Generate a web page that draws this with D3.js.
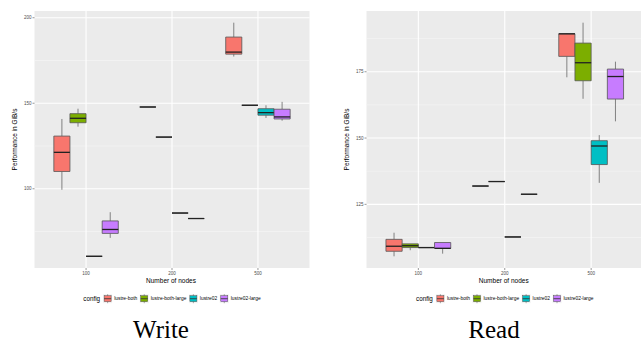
<!DOCTYPE html>
<html>
<head>
<meta charset="utf-8">
<script src="https://cdn.jsdelivr.net/npm/d3@7"></script>
<style>
  html, body { margin: 0; padding: 0; background: #fff; }
  svg { display: block; }
</style>
</head>
<body>
<svg id="chart"></svg>
<script>
// categories
const nodeCounts = ["100", "200", "500"];
const configs = ["lustre-both", "lustre-both-large", "lustre02", "lustre02-large"];
const configColors = ["#F8766D", "#7CAE00", "#00BFC4", "#C77CFF"];

// five number summaries: [min, q1, median, q3, max]
// one row per node count, one entry per config
const writeStats = [
  [[99.4, 110.1, 121.3, 130.8, 140.8], [136.3, 138.6, 141.2, 143.9, 146.8], [60.5, 60.5, 60.5, 60.5, 60.5], [71.3, 73.9, 76.2, 81.2, 86.3]],
  [[147.8, 147.8, 147.8, 147.8, 147.8], [130.2, 130.2, 130.2, 130.2, 130.2], [85.8, 85.8, 85.8, 85.8, 85.8], [82.6, 82.6, 82.6, 82.6, 82.6]],
  [[177.3, 178.7, 179.9, 188.7, 197.1], [148.8, 148.8, 148.8, 148.8, 148.8], [141.4, 143.0, 144.5, 146.8, 148.8], [139.8, 140.8, 142.0, 146.5, 150.8]]
];
const readStats = [
  [[105.4, 107.3, 109.2, 111.8, 114.3], [107.7, 108.7, 109.4, 110.1, 110.1], [108.7, 108.7, 108.7, 108.7, 108.7], [106.4, 108.4, 108.4, 110.6, 110.6]],
  [[131.9, 131.9, 131.9, 131.9, 131.9], [133.6, 133.6, 133.6, 133.6, 133.6], [112.7, 112.7, 112.7, 112.7, 112.7], [128.8, 128.8, 128.8, 128.8, 128.8]],
  [[172.9, 180.8, 189.3, 189.3, 189.5], [164.8, 171.6, 178.4, 185.8, 193.5], [133.1, 140.0, 147.0, 149.0, 151.1], [156.3, 164.7, 173.2, 176.0, 178.8]]
];

// tick labels
const writeTicks = [100, 150, 200];
const writeMinor = [75, 125, 175];
const readTicks = [125, 150, 175];
const readMinor = [112.5, 137.5, 162.5, 187.5];

const width = 641;
const height = 344;

const svg = d3.select("#chart")
  .attr("width", width)
  .attr("height", height)
  .attr("viewBox", [0, 0, width, height]);

function drawPanel(stats, ticks, minor, left, right, caption, captionX) {
  const top = 11, bottom = 268;
  const g = svg.append("g");

  const allVals = stats.flat(2);
  const lo = d3.min(allVals), hi = d3.max(allVals);
  const pad = (hi - lo) * 0.05;
  const y = d3.scaleLinear().domain([lo - pad, hi + pad]).range([bottom, top]);

  // discrete x: 3 categories with 0.6 expansion each side
  const xc = d3.scaleLinear().domain([0.4, 3.6]).range([left, right]);
  const unit = xc(2) - xc(1);
  const sub = d3.scaleBand().domain(configs).range([-0.375 * unit, 0.375 * unit]);

  g.append("rect")
    .attr("x", left).attr("y", top)
    .attr("width", right - left).attr("height", bottom - top)
    .attr("fill", "#EBEBEB");

  g.selectAll(".minor").data(minor).join("line")
    .attr("x1", left).attr("x2", right)
    .attr("y1", d => y(d)).attr("y2", d => y(d))
    .attr("stroke", "#F7F7F7").attr("stroke-width", 0.6);

  g.selectAll(".major").data(ticks).join("line")
    .attr("x1", left).attr("x2", right)
    .attr("y1", d => y(d)).attr("y2", d => y(d))
    .attr("stroke", "#fff").attr("stroke-width", 1.1);

  g.selectAll(".vmajor").data(nodeCounts).join("line")
    .attr("x1", (d, i) => xc(i + 1)).attr("x2", (d, i) => xc(i + 1))
    .attr("y1", top).attr("y2", bottom)
    .attr("stroke", "#fff").attr("stroke-width", 1.1);

  // y axis
  ticks.forEach(t => {
    g.append("line").attr("x1", left - 2).attr("x2", left)
      .attr("y1", y(t)).attr("y2", y(t)).attr("stroke", "#333").attr("stroke-width", 0.5);
    g.append("text").attr("x", left - 3).attr("y", y(t))
      .attr("text-anchor", "end").attr("dominant-baseline", "central")
      .attr("font-family", "Liberation Sans, Arial, sans-serif").attr("font-size", 4.5)
      .attr("fill", "#4D4D4D").text(t);
  });
  // x axis
  nodeCounts.forEach((n, i) => {
    g.append("line").attr("x1", xc(i + 1)).attr("x2", xc(i + 1))
      .attr("y1", bottom).attr("y2", bottom + 2).attr("stroke", "#333").attr("stroke-width", 0.5);
    g.append("text").attr("x", xc(i + 1)).attr("y", bottom + 6.5)
      .attr("text-anchor", "middle")
      .attr("font-family", "Liberation Sans, Arial, sans-serif").attr("font-size", 4.5)
      .attr("fill", "#4D4D4D").text(n);
  });

  g.append("text").attr("x", (left + right) / 2 - 1).attr("y", 283)
    .attr("text-anchor", "middle")
    .attr("font-family", "Liberation Sans, Arial, sans-serif").attr("font-size", 6.5)
    .attr("fill", "#000").text("Number of nodes");
  g.append("text")
    .attr("transform", `translate(${left - 17.5},${(top + bottom) / 2}) rotate(-90)`)
    .attr("text-anchor", "middle")
    .attr("font-family", "Liberation Sans, Arial, sans-serif").attr("font-size", 6.5)
    .attr("fill", "#000").text("Performance in GiB/s");

  // boxes
  stats.forEach((row, i) => {
    row.forEach((s, j) => {
      const x0 = xc(i + 1) + sub(configs[j]);
      const x1 = x0 + sub.bandwidth();
      const cx = (x0 + x1) / 2;
      const [mn, q1, md, q3, mx] = s;
      g.append("line").attr("x1", cx).attr("x2", cx).attr("y1", y(q3)).attr("y2", y(mx))
        .attr("stroke", "#555").attr("stroke-width", 0.7);
      g.append("line").attr("x1", cx).attr("x2", cx).attr("y1", y(q1)).attr("y2", y(mn))
        .attr("stroke", "#555").attr("stroke-width", 0.7);
      g.append("path")
        .attr("d", `M${x0},${y(q3)}H${x1}V${y(q1)}H${x0}Z`)
        .attr("fill", configColors[j])
        .attr("stroke", "#555").attr("stroke-width", 0.8);
      g.append("line").attr("x1", x0).attr("x2", x1).attr("y1", y(md)).attr("y2", y(md))
        .attr("stroke", "#222").attr("stroke-width", 1.3);
    });
  });

  // legend
  const lg = g.append("g");
  const title = lg.append("text").attr("x", 0).attr("y", 0)
    .attr("dominant-baseline", "central")
    .attr("font-family", "Liberation Sans, Arial, sans-serif").attr("font-size", 6.3)
    .text("config");
  let cursor = title.node().getComputedTextLength() + 3;
  configs.forEach((c, j) => {
    const k = lg.append("g").attr("transform", `translate(${cursor},0)`);
    k.append("rect").attr("x", 0).attr("y", -4.5).attr("width", 9).attr("height", 9).attr("fill", "#F2F2F2");
    k.append("line").attr("x1", 4.5).attr("x2", 4.5).attr("y1", -4.5).attr("y2", 4.5)
      .attr("stroke", "#555").attr("stroke-width", 0.5);
    k.append("rect").attr("x", 1).attr("y", -3).attr("width", 7).attr("height", 6)
      .attr("fill", configColors[j]).attr("stroke", "#555").attr("stroke-width", 0.5);
    k.append("line").attr("x1", 1).attr("x2", 8).attr("y1", 0).attr("y2", 0)
      .attr("stroke", "#333").attr("stroke-width", 0.8);
    const t = k.append("text").attr("x", 11).attr("y", 0)
      .attr("dominant-baseline", "central")
      .attr("font-family", "Liberation Sans, Arial, sans-serif").attr("font-size", 4.9)
      .text(c);
    cursor += 11 + t.node().getComputedTextLength() + 2.5;
  });
  const lgWidth = cursor - 2.5;
  lg.attr("transform", `translate(${(left + right) / 2 - lgWidth / 2},${298.7})`);

  svg.append("text").attr("x", captionX).attr("y", 338)
    .attr("text-anchor", "middle")
    .attr("font-family", "Liberation Serif, Times New Roman, serif").attr("font-size", 25)
    .attr("fill", "#000").text(caption);
}

drawPanel(writeStats, writeTicks, writeMinor, 34.5, 309.5, "Write", 161);
drawPanel(readStats, readTicks, readMinor, 366.5, 643, "Read", 494);
</script>
</body>
</html>
